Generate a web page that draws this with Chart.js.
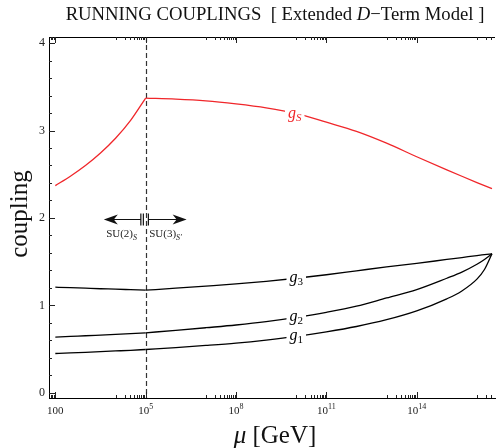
<!DOCTYPE html>
<html>
<head>
<meta charset="utf-8">
<script src="https://cdn.jsdelivr.net/npm/chart.js@4/dist/chart.umd.min.js"></script>
<style>
  body { margin: 0; background: #fff; }
  canvas { display: block; }
</style>
</head>
<body>
<canvas id="couplings" width="496" height="448"></canvas>
<script>
// log10(mu / GeV) sample points, below and above the 10^5 GeV threshold
const logMuLow = [2, 2.5, 3, 3.5, 4, 4.5, 5];
const logMuHigh = [5, 6, 7, 8, 9, 10, 11, 12, 13, 14, 15, 15.5, 16, 16.25, 16.5];

const gSLow = [2.370, 2.477, 2.599, 2.742, 2.911, 3.116, 3.371];
const gSHigh = [3.371, 3.36, 3.34, 3.305, 3.26, 3.195, 3.095, 2.99, 2.855, 2.70, 2.55, 2.477, 2.405, 2.37, 2.335];

const g3Low = [1.208, 1.202, 1.196, 1.19, 1.185, 1.179, 1.173];
const g3High = [1.173, 1.196, 1.22, 1.245, 1.275, 1.31, 1.35, 1.395, 1.44, 1.48, 1.525, 1.547, 1.57, 1.58, 1.59];

const g2Low = [0.637, 0.645, 0.652, 0.660, 0.668, 0.677, 0.686];
const g2High = [0.686, 0.714, 0.744, 0.775, 0.813, 0.862, 0.92, 0.99, 1.085, 1.18, 1.31, 1.38, 1.47, 1.525, 1.59];

const g1Low = [0.449, 0.456, 0.463, 0.470, 0.478, 0.486, 0.495];
const g1High = [0.495, 0.517, 0.541, 0.568, 0.603, 0.645, 0.697, 0.758, 0.836, 0.937, 1.075, 1.165, 1.30, 1.41, 1.59];

// axis ticks
const xMajorTicks = [2, 5, 8, 11, 14];
const xTickLabels = [["100", ""], ["10", "5"], ["10", "8"], ["10", "11"], ["10", "14"]];
const yMajorTicks = [0, 1, 2, 3, 4];

const threshold = 5; // log10 of 10^5 GeV

const RED = "#f0262a";
const SERIF = "'Liberation Serif', 'DejaVu Serif', serif";

function pts(xs, ys) {
    return xs.map((x, i) => ({ x: x, y: ys[i] }));
}

function curve(xs, ys, color) {
    return {
        data: pts(xs, ys),
        borderColor: color,
        borderWidth: 1.3,
        pointRadius: 0,
        fill: false,
        cubicInterpolationMode: "monotone"
    };
}

// draw "g" with a subscript on top of a white patch
function curveLabel(ctx, px, py, sub, color, subItalic) {
    ctx.font = "italic 16px " + SERIF;
    const wg = ctx.measureText("g").width;
    ctx.font = (subItalic ? "italic " : "") + "11px " + SERIF;
    const ws = ctx.measureText(sub).width;
    const w = wg + ws;
    ctx.fillStyle = "#fff";
    ctx.fillRect(px - w / 2 - 3, py - 7, w + 6, 14);
    ctx.fillStyle = color;
    ctx.textBaseline = "alphabetic";
    ctx.textAlign = "left";
    ctx.font = "italic 16px " + SERIF;
    ctx.fillText("g", px - w / 2, py + 4);
    ctx.font = (subItalic ? "italic " : "") + "11px " + SERIF;
    ctx.fillText(sub, px - w / 2 + wg, py + 7);
}

// draw a sequence of [text, font, dy] pieces centred at cx
function drawPieces(ctx, pieces, cx, baseY) {
    let total = 0;
    pieces.forEach(p => { ctx.font = p[1]; total += ctx.measureText(p[0]).width; });
    let xx = cx - total / 2;
    ctx.textAlign = "left";
    ctx.textBaseline = "alphabetic";
    pieces.forEach(p => {
        ctx.font = p[1];
        ctx.fillText(p[0], xx, baseY + (p[2] || 0));
        xx += ctx.measureText(p[0]).width;
    });
}

const decorations = {
    id: "decorations",
    beforeDatasetsDraw(chart) {
        const { ctx, chartArea: a, scales: { x } } = chart;
        // threshold line
        ctx.save();
        ctx.strokeStyle = "#333";
        ctx.lineWidth = 1.2;
        ctx.setLineDash([5, 3]);
        const px = Math.round(x.getPixelForValue(threshold)) + 0.5;
        ctx.beginPath();
        ctx.moveTo(px, a.top);
        ctx.lineTo(px, a.bottom);
        ctx.stroke();
        ctx.restore();
    },
    afterDatasetsDraw(chart) {
        const { ctx, chartArea: a, scales: { x, y } } = chart;
        ctx.save();

        // frame top line
        ctx.strokeStyle = "#000";
        ctx.lineWidth = 1;
        ctx.beginPath();
        ctx.moveTo(a.left, a.top + 0.5);
        ctx.lineTo(a.right, a.top + 0.5);
        ctx.stroke();

        // inward ticks
        ctx.strokeStyle = "#222";
        ctx.lineWidth = 1;
        ctx.beginPath();
        for (let v = 0; v <= 4.0001; v += 0.2) {
            const py = Math.round(y.getPixelForValue(v)) + 0.5;
            const major = Math.abs(v - Math.round(v)) < 1e-6;
            ctx.moveTo(a.left, py);
            ctx.lineTo(a.left + (major ? 6 : 3), py);
        }
        [...xMajorTicks, 17].forEach(k => {
            for (let m = 1; m <= 10; m++) {
                const v = k - 1 + Math.log10(m);
                if (v < x.min || v > x.max) continue;
                const px = Math.round(x.getPixelForValue(v)) + 0.5;
                const len = m === 10 ? 6 : 3;
                ctx.moveTo(px, a.bottom);
                ctx.lineTo(px, a.bottom - len);
                ctx.moveTo(px, a.top);
                ctx.lineTo(px, a.top + len);
            }
        });
        ctx.stroke();

        // x tick labels with exponents
        ctx.fillStyle = "#222";
        xMajorTicks.forEach((k, i) => {
            const px = x.getPixelForValue(k);
            const lab = xTickLabels[i];
            drawPieces(ctx, [[lab[0], "11px " + SERIF, 0], [lab[1], "8px " + SERIF, -5]], px, a.bottom + 16);
        });

        // curve labels
        curveLabel(ctx, x.getPixelForValue(9.95), y.getPixelForValue(3.19), "S", RED, true);
        curveLabel(ctx, x.getPixelForValue(10.0), y.getPixelForValue(1.31), "3", "#000", false);
        curveLabel(ctx, x.getPixelForValue(10.0), y.getPixelForValue(0.862), "2", "#000", false);
        curveLabel(ctx, x.getPixelForValue(10.0), y.getPixelForValue(0.645), "1", "#000", false);

        // symmetry-breaking arrows
        const ay = Math.round(y.getPixelForValue(1.985)) + 0.5;
        ctx.strokeStyle = "#111";
        ctx.fillStyle = "#111";
        ctx.lineWidth = 1.2;
        const lTip = x.getPixelForValue(3.61), lEnd = x.getPixelForValue(4.84);
        const rTip = x.getPixelForValue(6.36), rEnd = x.getPixelForValue(5.09);
        ctx.beginPath();
        ctx.moveTo(lTip + 8, ay); ctx.lineTo(lEnd, ay);
        ctx.moveTo(rEnd, ay); ctx.lineTo(rTip - 8, ay);
        ctx.moveTo(lEnd, ay - 6); ctx.lineTo(lEnd, ay + 6);
        ctx.moveTo(lEnd + 2.5, ay - 6); ctx.lineTo(lEnd + 2.5, ay + 6);
        ctx.moveTo(rEnd, ay - 6); ctx.lineTo(rEnd, ay + 6);
        ctx.stroke();
        ctx.beginPath();
        ctx.moveTo(lTip, ay); ctx.lineTo(lTip + 14, ay - 5); ctx.lineTo(lTip + 10, ay); ctx.lineTo(lTip + 14, ay + 5);
        ctx.closePath();
        ctx.fill();
        ctx.beginPath();
        ctx.moveTo(rTip, ay); ctx.lineTo(rTip - 14, ay - 5); ctx.lineTo(rTip - 10, ay); ctx.lineTo(rTip - 14, ay + 5);
        ctx.closePath();
        ctx.fill();

        ctx.fillStyle = "#222";
        const ty = y.getPixelForValue(1.985) + 18;
        drawPieces(ctx, [["SU(2)", "11px " + SERIF, 0], ["S", "italic 8px " + SERIF, 3]], x.getPixelForValue(4.2), ty);
        drawPieces(ctx, [["SU(3)", "11px " + SERIF, 0], ["S\u2032", "italic 8px " + SERIF, 3]], x.getPixelForValue(5.66), ty);

        // title
        ctx.fillStyle = "#111";
        drawPieces(ctx, [
            ["RUNNING COUPLINGS  [ Extended ", "18.7px " + SERIF, 0],
            ["D", "italic 18.7px " + SERIF, 0],
            ["\u2212Term Model ]", "18.7px " + SERIF, 0]
        ], 275, 20);

        // axis titles
        drawPieces(ctx, [["\u03bc", "italic 25px " + SERIF, 0], [" [GeV]", "25px " + SERIF, 0]], 275, 443);
        ctx.save();
        ctx.translate(27, 214);
        ctx.rotate(-Math.PI / 2);
        drawPieces(ctx, [["coupling", "25px " + SERIF, 0]], 0, 0);
        ctx.restore();

        ctx.restore();
    }
};

const datasets = [
    curve(logMuLow, gSLow, RED), curve(logMuHigh, gSHigh, RED),
    curve(logMuLow, g3Low, "#000"), curve(logMuHigh, g3High, "#000"),
    curve(logMuLow, g2Low, "#000"), curve(logMuHigh, g2High, "#000"),
    curve(logMuLow, g1Low, "#000"), curve(logMuHigh, g1High, "#000")
];

new Chart(document.getElementById("couplings"), {
    type: "line",
    data: { datasets: datasets },
    options: {
        responsive: false,
        animation: false,
        devicePixelRatio: 1,
        layout: { padding: { top: 37, right: 1, left: 0, bottom: 0 } },
        plugins: { legend: { display: false }, tooltip: { enabled: false } },
        scales: {
            x: {
                type: "linear",
                min: 1.79,
                max: 16.6,
                grid: { display: false, drawTicks: false },
                border: { color: "#000", width: 1 },
                ticks: { display: false },
                afterBuildTicks: s => { s.ticks = xMajorTicks.map(v => ({ value: v })); },
                afterFit: s => { s.height = 50; }
            },
            y: {
                min: -0.06,
                max: 4.07,
                grid: { display: false, drawTicks: false },
                border: { color: "#000", width: 1 },
                ticks: {
                    color: "#222",
                    padding: 4,
                    font: { family: SERIF, size: 12 },
                    callback: v => String(v)
                },
                afterBuildTicks: s => { s.ticks = yMajorTicks.map(v => ({ value: v })); },
                afterFit: s => { s.width = 49; }
            }
        }
    },
    plugins: [decorations]
});
</script>
</body>
</html>
